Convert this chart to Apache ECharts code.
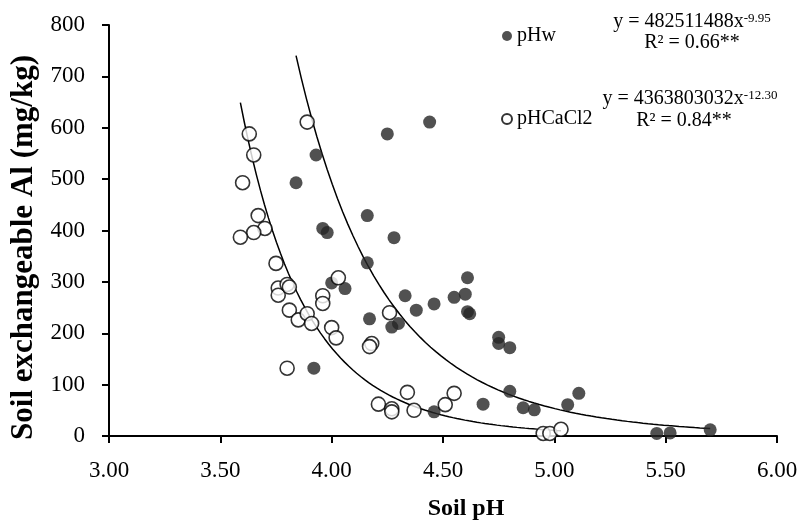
<!DOCTYPE html>
<html>
<head>
<meta charset="utf-8">
<script src="https://cdn.jsdelivr.net/npm/echarts@6/dist/echarts.min.js"></script>
<style>
  html, body { margin: 0; padding: 0; background: #fff; }
  #chart { width: 802px; height: 526px; }
</style>
</head>
<body>
<div id="chart"></div>
<script>
// pH in water (filled markers)
const phWx = [3.84, 3.93, 3.96, 3.98, 3.92, 4.00, 4.06, 4.16, 4.16, 4.25, 4.44, 4.28,
  4.61, 4.60, 4.55, 4.33, 4.46, 4.38, 4.61, 4.62, 4.17, 4.30, 4.27, 4.75, 4.75, 4.80,
  4.46, 4.68, 4.80, 4.86, 4.91, 5.06, 5.11, 5.46, 5.52, 5.70];
const phWy = [493, 547, 404, 396, 132, 298, 287, 337, 429, 588, 611, 386,
  308, 276, 270, 273, 257, 245, 242, 238, 228, 219, 212, 192, 180, 172,
  47, 62, 87, 55, 51, 61, 83, 5, 6, 12];

// pH in CaCl2 (hollow markers)
const phCaX = [3.89, 3.63, 3.65, 3.60, 3.67, 3.70, 3.65, 3.59, 3.75, 3.76, 3.76, 3.80,
  3.81, 3.81, 3.85, 3.89, 3.91, 3.80, 3.96, 3.96, 4.03, 4.00, 4.02, 4.26, 4.18, 4.17,
  4.34, 4.55, 4.51, 4.21, 4.27, 4.27, 4.37, 4.95, 4.98, 5.03];
const phCaY = [611, 588, 547, 493, 429, 404, 396, 387, 336, 288, 274, 295,
  290, 245, 226, 238, 219, 132, 273, 258, 308, 211, 191, 240, 180, 174,
  85, 83, 61, 62, 53, 47, 50, 5, 5, 13];

// power trendlines as printed on the chart: y = a * x^b, drawn over [from, to]
const fitW = [482511488, -9.95, 3.84, 5.70];
const fitCa = [4363803032, -12.30, 3.59, 5.03];

const xTicks = [3, 6, 0.5];
const yTicks = [0, 800, 100];

const FONT = '"Liberation Serif", "Times New Roman", serif';

function pairs(xs, ys) {
  return xs.map((x, i) => [x, ys[i]]);
}

// sample the printed equation along the x range
function trend(fit) {
  const pts = [];
  const n = 80;
  for (let i = 0; i <= n; i++) {
    const x = fit[2] + (fit[3] - fit[2]) * i / n;
    pts.push([x, fit[0] * Math.pow(x, fit[1])]);
  }
  return pts;
}

function eqText(x, y, coef, power) {
  return {
    type: 'text', x: x, y: y,
    style: {
      text: '{a|y = ' + coef + 'x}{s|' + power + '}',
      align: 'center', verticalAlign: 'middle',
      fill: '#000',
      rich: {
        a: { fontFamily: FONT, fontSize: 20, fill: '#000', verticalAlign: 'bottom' },
        s: { fontFamily: FONT, fontSize: 13, fill: '#000', verticalAlign: 'top' }
      }
    }
  };
}

function r2Text(x, y, val) {
  return {
    type: 'text', x: x, y: y,
    style: {
      text: 'R² = ' + val,
      font: '20px ' + FONT,
      fill: '#000',
      align: 'center', verticalAlign: 'middle'
    }
  };
}

const chart = echarts.init(document.getElementById('chart'));

const axisCommon = {
  axisLine: { lineStyle: { color: '#000', width: 2 } },
  axisTick: { show: true, inside: false, length: 7, lineStyle: { color: '#000', width: 2 } },
  splitLine: { show: false },
  axisLabel: { color: '#000', fontFamily: FONT, fontSize: 23 },
  nameTextStyle: { color: '#000', fontFamily: FONT, fontWeight: 'bold' }
};

const option = {
  animation: false,
  backgroundColor: '#fff',
  grid: { left: 109, right: 25, top: 25, bottom: 85 },
  xAxis: {
    ...axisCommon,
    type: 'value',
    min: xTicks[0], max: xTicks[1], interval: xTicks[2],
    name: 'Soil pH',
    nameLocation: 'middle',
    nameGap: 61,
    nameTextStyle: { ...axisCommon.nameTextStyle, fontSize: 24, padding: [0, 0, 0, 46] },
    axisLabel: { ...axisCommon.axisLabel, margin: 23, formatter: v => v.toFixed(2) }
  },
  yAxis: {
    ...axisCommon,
    type: 'value',
    min: yTicks[0], max: yTicks[1], interval: yTicks[2],
    name: 'Soil exchangeable Al (mg/kg)',
    nameLocation: 'middle',
    nameGap: 66,
    nameTextStyle: { ...axisCommon.nameTextStyle, fontSize: 31, padding: [0, 34, 0, 0] },
    axisLabel: { ...axisCommon.axisLabel, margin: 24 }
  },
  legend: {
    orient: 'vertical',
    left: 496,
    top: 21,
    itemWidth: 10,
    itemHeight: 10,
    itemGap: 63,
    textStyle: { color: '#000', fontFamily: FONT, fontSize: 20 },
    data: [
      { name: 'pHw', icon: 'circle' },
      { name: 'pHCaCl2', icon: 'circle' }
    ]
  },
  series: [
    {
      name: 'pHw',
      type: 'scatter',
      symbol: 'circle',
      symbolSize: 13,
      data: pairs(phWx, phWy),
      itemStyle: { color: '#262626' },
      z: 3
    },
    {
      name: 'pHCaCl2',
      type: 'scatter',
      symbol: 'circle',
      symbolSize: 14,
      data: pairs(phCaX, phCaY),
      itemStyle: { color: '#fff', borderColor: '#000', borderWidth: 1.6 },
      z: 4
    },
    {
      type: 'line',
      data: trend(fitW),
      showSymbol: false,
      lineStyle: { color: '#000', width: 1.5 },
      silent: true,
      z: 2
    },
    {
      type: 'line',
      data: trend(fitCa),
      showSymbol: false,
      lineStyle: { color: '#000', width: 1.5 },
      silent: true,
      z: 2
    }
  ],
  graphic: [
    eqText(692, 22, '482511488', '-9.95'),
    r2Text(692, 43, '0.66**'),
    eqText(690, 99, '4363803032', '-12.30'),
    r2Text(684, 121, '0.84**')
  ]
};

chart.setOption(option);
</script>
</body>
</html>
